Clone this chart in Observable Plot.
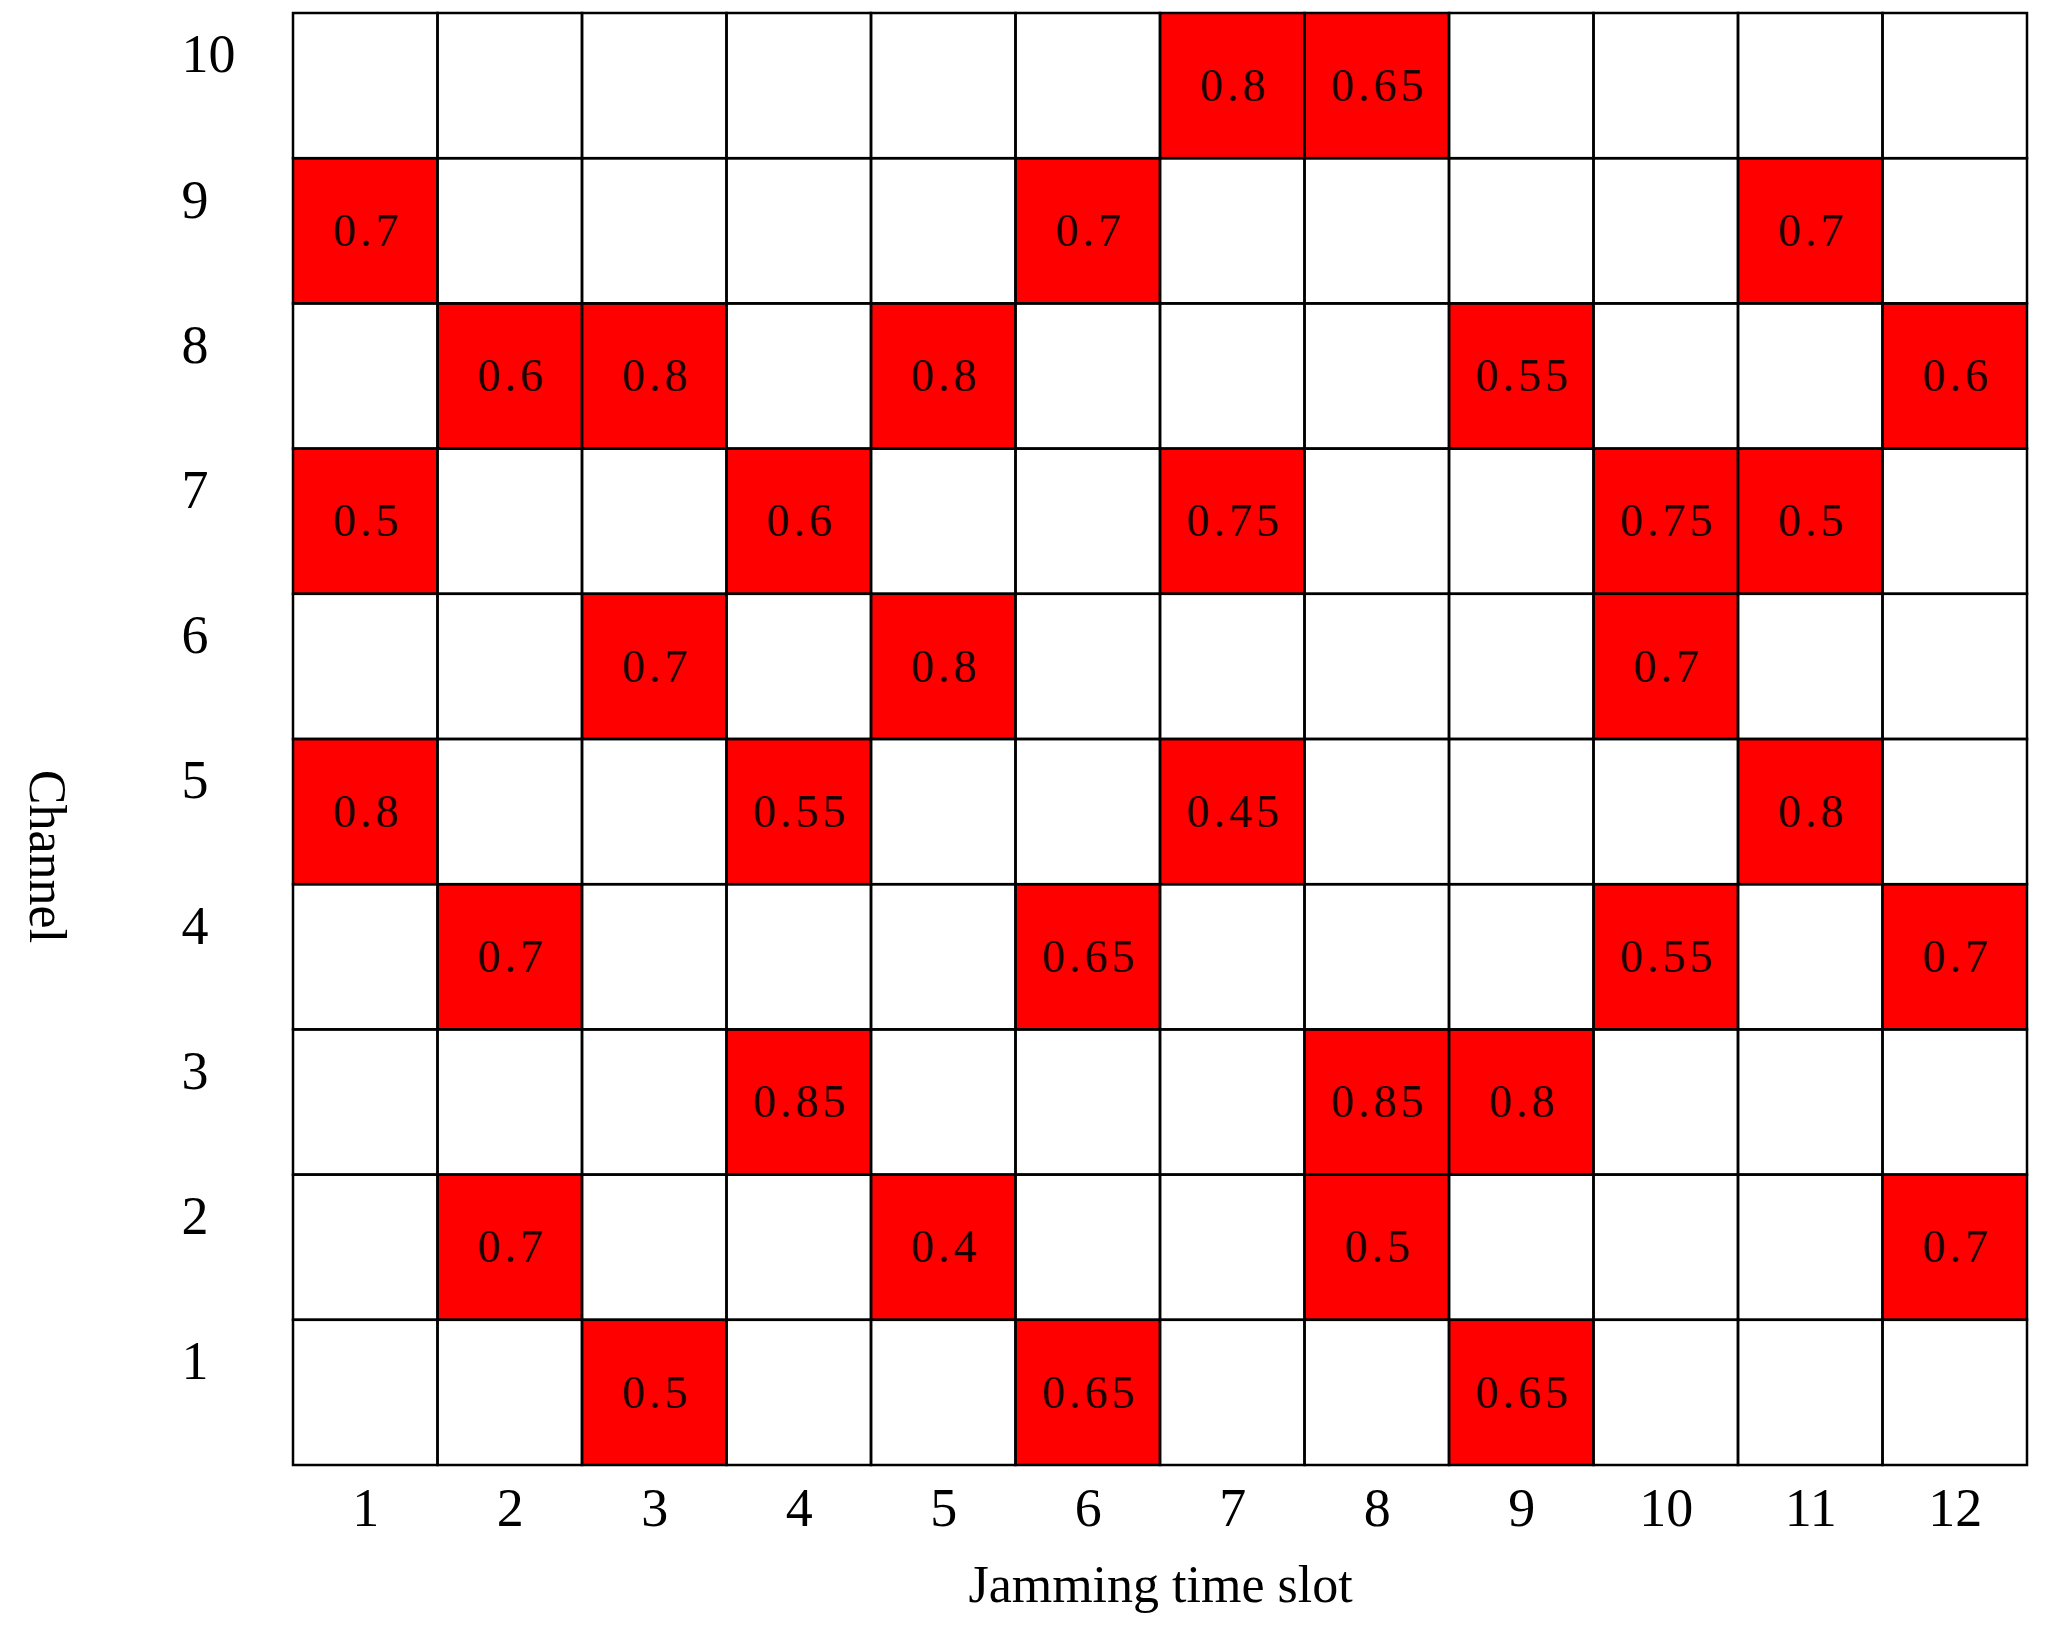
<!DOCTYPE html>
<html>
<head>
<meta charset="utf-8">
<script src="https://cdn.jsdelivr.net/npm/d3@7"></script>
<script src="https://cdn.jsdelivr.net/npm/@observablehq/plot@0.6"></script>
<style>
  html, body { margin: 0; padding: 0; background: #fff; }
  #chart svg { display: block; }
  #chart g[aria-label="cell value"] text, #chart .cell-value text { letter-spacing: 4px; }
</style>
</head>
<body>
<div id="chart"></div>
<script>
// Axis categories
const slots = [1, 2, 3, 4, 5, 6, 7, 8, 9, 10, 11, 12];
const channels = [1, 2, 3, 4, 5, 6, 7, 8, 9, 10];

// Jammed cells: time slot, channel, jamming value
const jamSlot =    [7, 8,  1, 6, 11,  2, 3, 5, 9, 12,  1, 4, 7, 10, 11,  3, 5, 10,  1, 4, 7, 11,  2, 6, 10, 12,  4, 8, 9,  2, 5, 8, 12,  3, 6, 9];
const jamChannel = [10, 10, 9, 9, 9,  8, 8, 8, 8, 8,   7, 7, 7, 7, 7,    6, 6, 6,   5, 5, 5, 5,   4, 4, 4, 4,    3, 3, 3,  2, 2, 2, 2,   1, 1, 1];
const jamValue =   ["0.8", "0.65", "0.7", "0.7", "0.7",
                    "0.6", "0.8", "0.8", "0.55", "0.6",
                    "0.5", "0.6", "0.75", "0.75", "0.5",
                    "0.7", "0.8", "0.7",
                    "0.8", "0.55", "0.45", "0.8",
                    "0.7", "0.65", "0.55", "0.7",
                    "0.85", "0.85", "0.8",
                    "0.7", "0.4", "0.5", "0.7",
                    "0.5", "0.65", "0.65"];

const xLabel = "Jamming time slot";
const yLabel = "Channel";

const grid = d3.cross(slots, channels).map(([s, c]) => ({slot: s, channel: c}));
const jam = jamSlot.map((s, i) => ({slot: s, channel: jamChannel[i], value: jamValue[i]}));

const serif = "'Liberation Serif', 'DejaVu Serif', serif";

const chart = Plot.plot({
  width: 2050,
  height: 1633,
  marginLeft: 293,
  marginRight: 23,
  marginTop: 13,
  marginBottom: 168,
  style: {fontFamily: serif, background: "#fff", color: "#000"},
  x: {domain: [0.5, 12.5], ticks: slots, tickFormat: d => String(d)},
  y: {domain: [0.5, 10.5], ticks: channels, tickFormat: d => String(d)},
  marks: [
    Plot.rect(grid, {
      x1: d => d.slot - 0.5, x2: d => d.slot + 0.5,
      y1: d => d.channel - 0.5, y2: d => d.channel + 0.5,
      fill: "white"
    }),
    Plot.rect(jam, {
      x1: d => d.slot - 0.5, x2: d => d.slot + 0.5,
      y1: d => d.channel - 0.5, y2: d => d.channel + 0.5,
      fill: "#ff0000"
    }),
    Plot.rect(grid, {
      x1: d => d.slot - 0.5, x2: d => d.slot + 0.5,
      y1: d => d.channel - 0.5, y2: d => d.channel + 0.5,
      fill: "none", stroke: "#000", strokeWidth: 2.5
    }),
    Plot.text(jam, {
      x: "slot", y: "channel", text: "value",
      fontSize: 46, fill: "#1a0000", fontFamily: serif, dx: 2,
      ariaLabel: "cell value", className: "cell-value"
    }),
    Plot.axisX({
      ticks: slots, tickSize: 0, tickPadding: 22, fontSize: 54,
      tickFormat: d => String(d), label: null
    }),
    Plot.axisY({
      ticks: channels, tickSize: 0, tickPadding: 0, fontSize: 54,
      textAnchor: "start", dx: -112, dy: -31,
      tickFormat: d => String(d), label: null
    }),
    Plot.text([xLabel], {
      frameAnchor: "bottom", dy: 120, text: d => d,
      fontSize: 52, fill: "#000", lineAnchor: "middle"
    }),
    Plot.text([yLabel], {
      frameAnchor: "left", dx: -247, dy: 117, text: d => d,
      fontSize: 52, fill: "#000", rotate: 90, lineAnchor: "middle", textAnchor: "middle"
    })
  ]
});

document.getElementById("chart").appendChild(chart);
</script>
</body>
</html>
